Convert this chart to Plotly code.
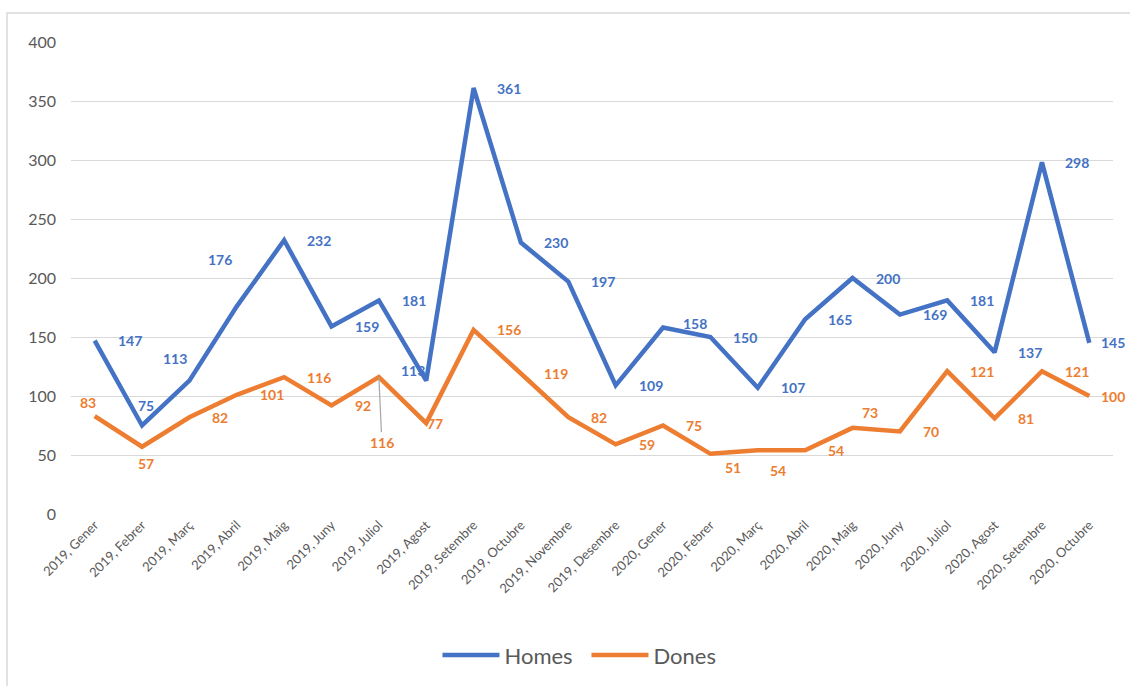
import plotly.graph_objects as go

months = [
    "2019, Gener", "2019, Febrer", "2019, Març", "2019, Abril", "2019, Maig",
    "2019, Juny", "2019, Juliol", "2019, Agost", "2019, Setembre", "2019, Octubre",
    "2019, Novembre", "2019, Desembre", "2020, Gener", "2020, Febrer", "2020, Març",
    "2020, Abril", "2020, Maig", "2020, Juny", "2020, Juliol", "2020, Agost",
    "2020, Setembre", "2020, Octubre",
]
homes = [147, 75, 113, 176, 232, 159, 181, 113, 361, 230, 197,
         109, 158, 150, 107, 165, 200, 169, 181, 137, 298, 145]
dones = [83, 57, 82, 101, 116, 92, 116, 77, 156, 119, 82,
         59, 75, 51, 54, 54, 73, 70, 121, 81, 121, 100]

BLUE = "#4472C4"
ORANGE = "#ED7D31"
GRID = "#D9D9D9"
TEXT = "#595959"
FONT = "Lato"

# data labels sit to the right of the point unless moved (dx, dy in px, centred)
homes_moved = {1: (4, -20), 2: (-14, -22), 3: (-17, -47), 7: (-13, -10), 12: (32, -4),
               21: (24, 0)}
dones_moved = {0: (-7, -14), 1: (4, 17), 7: (9, 0), 13: (23, 14), 14: (20, 20), 16: (17, -15),
               21: (24, 0)}
dones_leader = {6: (3, 65)}

fig = go.Figure()
for name, vals, color in [("Homes", homes, BLUE), ("Dones", dones, ORANGE)]:
    fig.add_trace(go.Scatter(
        x=list(range(len(months))), y=vals, mode="lines", name=name,
        line=dict(color=color, width=4.5),
    ))

annotations = []
for vals, color, moved, leader in [(homes, BLUE, homes_moved, {}),
                                   (dones, ORANGE, dones_moved, dones_leader)]:
    for i, v in enumerate(vals):
        base = dict(x=i, y=v, xref="x", yref="y", text=str(v),
                    font=dict(family=FONT, size=14, color=color, weight="bold"))
        if i in leader:
            dx, dy = leader[i]
            annotations.append(dict(base, showarrow=True, ax=dx, ay=dy,
                                    arrowhead=0, arrowwidth=1.2, arrowcolor="#A6A6A6",
                                    standoff=0, startstandoff=0))
        elif i in moved:
            dx, dy = moved[i]
            annotations.append(dict(base, showarrow=False, xanchor="center",
                                    yanchor="middle", xshift=dx, yshift=-dy))
        else:
            annotations.append(dict(base, showarrow=False, xanchor="left",
                                    yanchor="middle", xshift=21))

fig.update_layout(
    width=1130, height=686,
    margin=dict(l=71, r=17, t=42, b=172, autoexpand=False),
    paper_bgcolor="white", plot_bgcolor="white",
    font=dict(family=FONT, color=TEXT),
    annotations=annotations,
    showlegend=True,
    legend=dict(orientation="h", xref="container", yref="container",
                x=0.519, y=0.045, xanchor="center", yanchor="middle",
                font=dict(family=FONT, size=22, color=TEXT),
                itemwidth=57, entrywidth=77),
    shapes=[dict(type="rect", xref="paper", yref="paper",
                 x0=-0.0614, x1=1.1, y0=-0.5, y1=1.0614,
                 line=dict(color=GRID, width=1.5), layer="below")],
)
fig.update_xaxes(
    range=[-0.5, len(months) - 0.5], automargin=False,
    tickmode="array", tickvals=list(range(len(months))), ticktext=months,
    tickangle=-45, tickfont=dict(family=FONT, size=13, color=TEXT),
    showgrid=False, zeroline=False, showline=False, ticks="",
)
fig.update_yaxes(
    range=[0, 400], dtick=50, showgrid=True, gridcolor=GRID, gridwidth=1.2,
    zeroline=False, showline=False, ticks="", ticklabelstandoff=14, automargin=False,
    tickfont=dict(family=FONT, size=16, color=TEXT),
)

fig.write_html("out.html", config={"displayModeBar": False},
               post_script="document.body.style.margin='0';")
